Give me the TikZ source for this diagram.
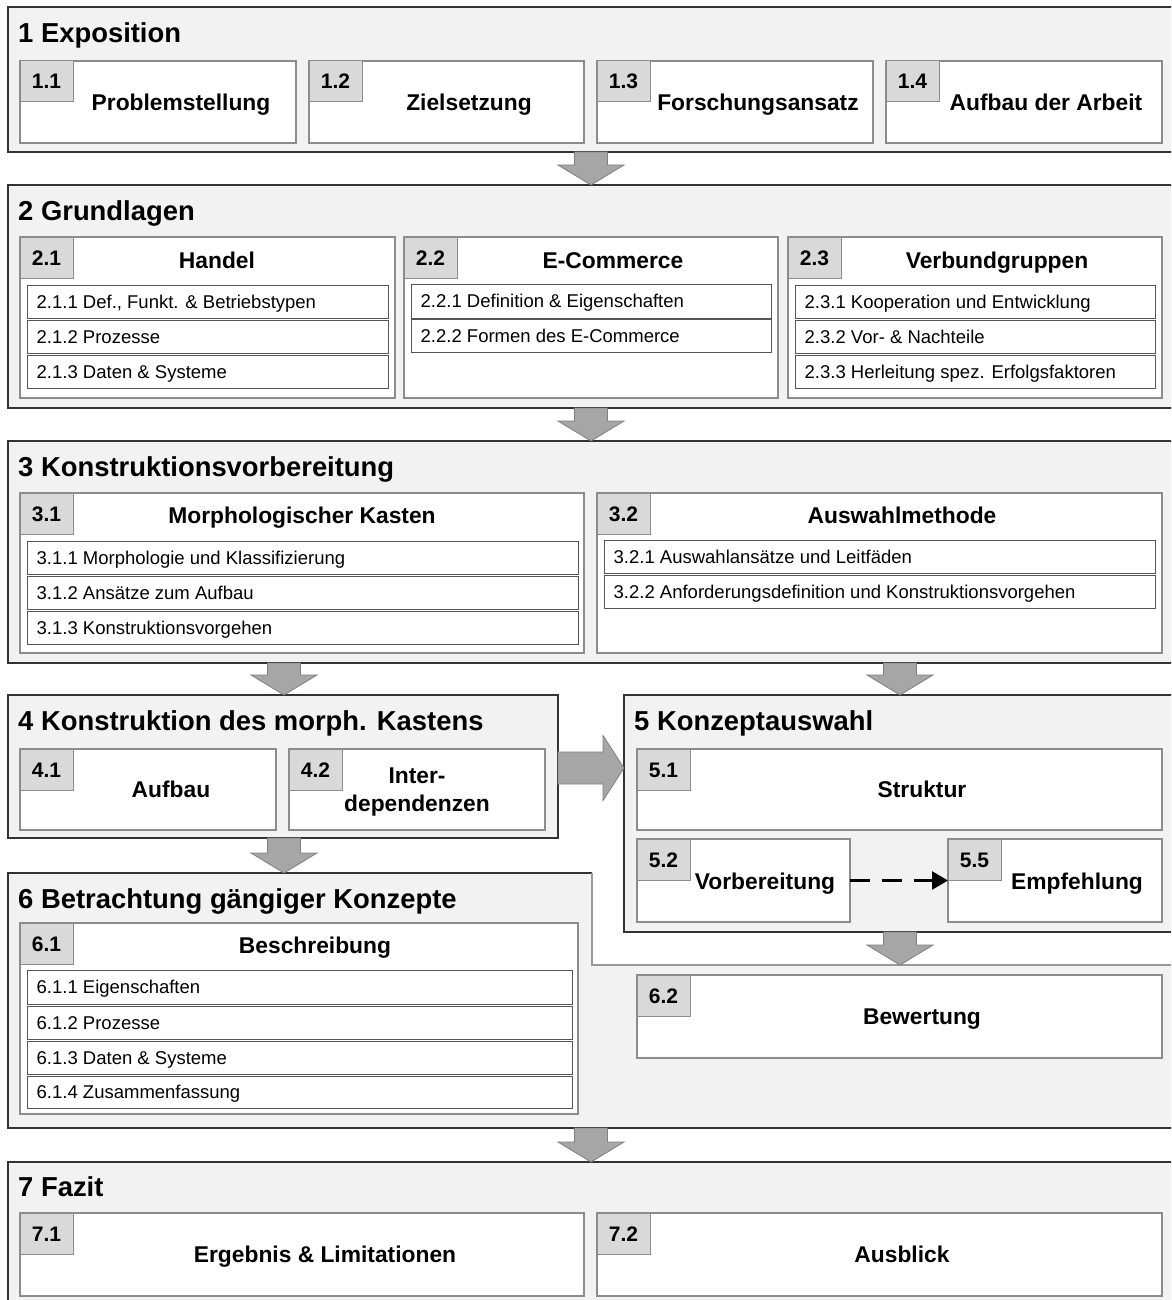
\documentclass[tikz,border=0pt]{standalone}
\usepackage{fontspec}
\setmainfont{Liberation Sans}
\usetikzlibrary{arrows.meta,calc}
\definecolor{secfill}{HTML}{F2F2F2}
\definecolor{secline}{HTML}{333333}
\definecolor{subline}{HTML}{8C8C8C}
\definecolor{itemline}{HTML}{555555}
\definecolor{tabfill}{HTML}{D9D9D9}
\definecolor{arrfill}{HTML}{A6A6A6}
\definecolor{arrline}{HTML}{7F7F7F}
\definecolor{stepline}{HTML}{9A9A9A}
\tikzset{
  secbox/.style={draw=secline, fill=secfill, line width=1.4pt},
  subbox/.style={draw=subline, fill=white, line width=1.1pt},
  tabbox/.style={draw=subline, fill=tabfill, line width=1pt, inner sep=0pt, outer sep=0pt},
  itembox/.style={draw=itemline, fill=white, line width=0.9pt},
  sectitle/.style={font=\fontsize{27.4}{32}\selectfont\bfseries, anchor=base west, inner sep=0pt},
  numtext/.style={font=\fontsize{21}{25}\selectfont\bfseries, inner sep=0pt, text height=15pt, text depth=0pt},
  labtext/.style={font=\fontsize{22.8}{28}\selectfont\bfseries, inner sep=0pt, text height=16.3pt, text depth=0pt},
  itemtext/.style={font=\fontsize{18.5}{22}\selectfont, inner sep=0pt, text height=13.3pt, text depth=0pt, anchor=west},
  bigarrow/.style={draw=arrline, fill=arrfill, line width=0.8pt},
  dasharrow/.style={draw=black, line width=2.6pt, dash pattern=on 20pt off 12pt, -{Triangle[length=16pt,width=18pt]}},
}
% #1 style, #2 name, #3 x1, #4 y1, #5 x2, #6 y2
\newcommand\boxnode[6]{%
  \node[#1, rectangle, inner sep=0pt, outer sep=0pt, anchor=north west,
        minimum width={(#5-#3)*1pt}, minimum height={(#6-#4)*1pt}] (#2) at (#3,#4) {};}
% #1 name #2 x1 #3 y1 #4 x2 #5 y2 #6 number #7 label x #8 label y #9 label
\newcommand\subsec[9]{%
  \boxnode{subbox}{#1}{#2}{#3}{#4}{#5}
  \node[tabbox, anchor=north west, minimum width=53pt, minimum height=41pt] (#1t) at (#1.north west) {};
  \node[numtext] (#1n) at (#1t.center) {#6};
  \node[labtext] (#1l) at (#7,#8) {#9};}
% #1 name #2 x1 #3 y1 #4 x2 #5 y2 #6 text
\newcommand\itemrow[6]{%
  \boxnode{itembox}{#1}{#2}{#3}{#4}{#5}
  \node[itemtext] (#1x) at ([xshift=9.5pt]#1.west) {#6};}
% #1 start coordinate, #2 tip coordinate
\newcommand\bigdarrow[2]{%
  \draw[bigarrow] ($(#1)+(-16.5,0)$) -- ($(#1)+(16.5,0)$) -- ($(#2)+(16.5,-20)$)
    -- ($(#2)+(33,-20)$) -- (#2) -- ($(#2)+(-33,-20)$) -- ($(#2)+(-16.5,-20)$) -- cycle;}
\begin{document}
\begin{tikzpicture}[x=1pt,y=-1pt]
\useasboundingbox (0,0) rectangle (1171,1300);
\clip (0,0) rectangle (1171,1300);
\fill[white] (0,0) rectangle (1171,1300);

% ---------- Section 1
\boxnode{secbox}{sec1}{8}{7}{1185}{152}
\node[sectitle] (t1) at (18,42.5) {1 Exposition};
\subsec{s11}{20}{61}{296}{143}{1.1}{181}{102}{Problemstellung}
\subsec{s12}{309}{61}{584}{143}{1.2}{469}{102}{Zielsetzung}
\subsec{s13}{597}{61}{873}{143}{1.3}{758}{102}{Forschungsansatz}
\subsec{s14}{886}{61}{1162}{143}{1.4}{1046}{102}{Aufbau der Arbeit}

% ---------- Section 2
\boxnode{secbox}{sec2}{8}{185}{1185}{408}
\node[sectitle] (t2) at (18,220) {2 Grundlagen};
\subsec{s21}{20}{237}{395}{398}{2.1}{217}{260}{Handel}
\subsec{s22}{404}{237}{778}{398}{2.2}{613}{260}{E-Commerce}
\subsec{s23}{788}{237}{1162}{398}{2.3}{997}{260}{Verbundgruppen}
\itemrow{i211}{27}{285}{388}{318}{2.1.1 Def., Funkt. \& Betriebstypen}
\itemrow{i212}{27}{320}{388}{353}{2.1.2 Prozesse}
\itemrow{i213}{27}{355}{388}{388}{2.1.3 Daten \& Systeme}
\itemrow{i221}{411}{284}{771}{318}{2.2.1 Definition \& Eigenschaften}
\itemrow{i222}{411}{319}{771}{352}{2.2.2 Formen des E-Commerce}
\itemrow{i231}{795}{285}{1155}{318}{2.3.1 Kooperation und Entwicklung}
\itemrow{i232}{795}{320}{1155}{353}{2.3.2 Vor- \& Nachteile}
\itemrow{i233}{795}{355}{1155}{388}{2.3.3 Herleitung spez. Erfolgsfaktoren}

% ---------- Section 3
\boxnode{secbox}{sec3}{8}{441}{1185}{663}
\node[sectitle] (t3) at (18,476) {3 Konstruktionsvorbereitung};
\subsec{s31}{20}{493}{584}{653}{3.1}{302}{515}{Morphologischer Kasten}
\subsec{s32}{597}{493}{1162}{653}{3.2}{902}{515}{Auswahlmethode}
\itemrow{i311}{27}{541}{578}{574}{3.1.1 Morphologie und Klassifizierung}
\itemrow{i312}{27}{576}{578}{609}{3.1.2 Ansätze zum Aufbau}
\itemrow{i313}{27}{611}{578}{644}{3.1.3 Konstruktionsvorgehen}
\itemrow{i321}{604}{540}{1155}{573}{3.2.1 Auswahlansätze und Leitfäden}
\itemrow{i322}{604}{575}{1155}{608}{3.2.2 Anforderungsdefinition und Konstruktionsvorgehen}

% ---------- Section 4
\boxnode{secbox}{sec4}{8}{695}{558}{838}
\node[sectitle] (t4) at (18,730.5) {4 Konstruktion des morph. Kastens};
\subsec{s41}{20}{749}{276}{830}{4.1}{171}{789.5}{Aufbau}
\subsec{s42}{289}{749}{545}{830}{4.2}{417}{775}{Inter-}
\node[labtext] (s42m) at (417,803) {dependenzen};

% ---------- Section 5
\boxnode{secbox}{sec5}{624}{695}{1185}{932}
\node[sectitle] (t5) at (634,730.5) {5 Konzeptauswahl};
\subsec{s51}{637}{749}{1162}{830}{5.1}{922}{789.5}{Struktur}
\subsec{s52}{637}{839}{850}{922}{5.2}{765}{881}{Vorbereitung}
\subsec{s55}{948}{839}{1162}{922}{5.5}{1077}{881}{Empfehlung}
\draw[dasharrow] (s52.east) -- (s55.west);

% ---------- Section 6
\fill[secfill] (8,873) -- (592,873) -- (592,965) -- (1185,965) -- (1185,1128) -- (8,1128) -- cycle;
\draw[secline, line width=1.4pt] (592,873) -- (8,873) -- (8,1128) -- (1185,1128);
\draw[stepline, line width=1.2pt] (592,873) -- (592,965) -- (1185,965);
\node[sectitle] (t6) at (18,908) {6 Betrachtung gängiger Konzepte};
\subsec{s61}{20}{923}{578}{1114}{6.1}{315}{945.5}{Beschreibung}
\itemrow{i611}{27}{970}{572}{1004}{6.1.1 Eigenschaften}
\itemrow{i612}{27}{1006}{572}{1039}{6.1.2 Prozesse}
\itemrow{i613}{27}{1041}{572}{1074}{6.1.3 Daten \& Systeme}
\itemrow{i614}{27}{1076}{572}{1108}{6.1.4 Zusammenfassung}
\subsec{s62}{637}{975}{1162}{1058}{6.2}{922}{1016.5}{Bewertung}

% ---------- Section 7
\boxnode{secbox}{sec7}{8}{1162}{1185}{1315}
\node[sectitle] (t7) at (18,1196.5) {7 Fazit};
\subsec{s71}{20}{1213}{584}{1296}{7.1}{325}{1254}{Ergebnis \& Limitationen}
\subsec{s72}{597}{1213}{1162}{1296}{7.2}{902}{1254}{Ausblick}

% ---------- Block arrows
\coordinate (a1s) at (591,152);  \coordinate (a1e) at (591,185);
\coordinate (a2s) at (591,408);  \coordinate (a2e) at (591,441);
\coordinate (a3s) at (284,663);  \coordinate (a3e) at (284,695);
\coordinate (a4s) at (900,663);  \coordinate (a4e) at (900,695);
\coordinate (a5s) at (284,838);  \coordinate (a5e) at (284,873);
\coordinate (a6s) at (900,932);  \coordinate (a6e) at (900,965);
\coordinate (a7s) at (591,1128); \coordinate (a7e) at (591,1162);
\bigdarrow{a1s}{a1e}
\bigdarrow{a2s}{a2e}
\bigdarrow{a3s}{a3e}
\bigdarrow{a4s}{a4e}
\bigdarrow{a5s}{a5e}
\bigdarrow{a6s}{a6e}
\bigdarrow{a7s}{a7e}
\coordinate (r4s) at (558,768);
\coordinate (r4e) at (624,768);
\draw[bigarrow] ($(r4s)+(0,-16)$) -- ($(r4e)+(-21,-16)$) -- ($(r4e)+(-21,-32.5)$) -- (r4e)
  -- ($(r4e)+(-21,32.5)$) -- ($(r4e)+(-21,16)$) -- ($(r4s)+(0,16)$) -- cycle;
\end{tikzpicture}
\end{document}
